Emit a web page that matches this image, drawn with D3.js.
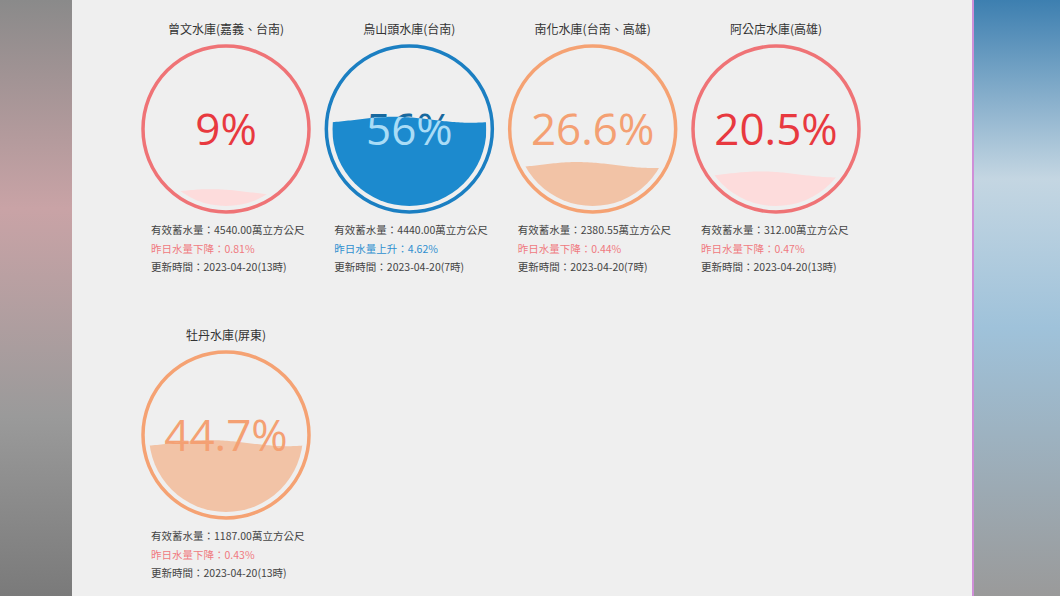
<!DOCTYPE html>
<html><head><meta charset="utf-8">
<script src="https://cdn.jsdelivr.net/npm/d3@7"></script>
<style>
body{margin:0;width:1060px;height:596px;overflow:hidden;background:#888;}
svg{display:block;font-family:"Noto Sans CJK TC","Noto Sans",sans-serif;}
</style></head><body>
<svg id="chart" width="1060" height="596"></svg>
<script>
// reservoir data
const names = ["曾文水庫(嘉義、台南)", "烏山頭水庫(台南)", "南化水庫(台南、高雄)", "阿公店水庫(高雄)", "牡丹水庫(屏東)"];
const percents = [9, 56, 26.6, 20.5, 44.7];
const labels = ["9%", "56%", "26.6%", "20.5%", "44.7%"];
const storage = ["4540.00", "4440.00", "2380.55", "312.00", "1187.00"];
const changeDir = ["下降", "上升", "下降", "下降", "下降"];
const changeVal = ["0.81%", "4.62%", "0.44%", "0.47%", "0.43%"];
const updated = ["2023-04-20(13時)", "2023-04-20(7時)", "2023-04-20(7時)", "2023-04-20(13時)", "2023-04-20(13時)"];
const themes = ["red", "blue", "orange", "red", "orange"];

const palette = {
  red: {ring: "#ef7376", fill: "#fddcdc", text: "#e8393f", wtext: "#e8393f"},
  blue: {ring: "#1b7fc2", fill: "#1c8ace", text: "#17689e", wtext: "#a9dcf6"},
  orange: {ring: "#f5a273", fill: "#f2c3a6", text: "#f4a073", wtext: "#f4a073"}
};

const svg = d3.select("#chart");
const defs = svg.append("defs");

// blurred side backdrops
const lg = defs.append("linearGradient").attr("id", "lside").attr("x1", 0).attr("x2", 0).attr("y1", 0).attr("y2", 1);
lg.append("stop").attr("offset", 0).attr("stop-color", "#8a8a8a");
lg.append("stop").attr("offset", 0.35).attr("stop-color", "#c9a3a6");
lg.append("stop").attr("offset", 0.7).attr("stop-color", "#9a9a9a");
lg.append("stop").attr("offset", 1).attr("stop-color", "#7a7a7a");
const rg = defs.append("linearGradient").attr("id", "rside").attr("x1", 0).attr("x2", 0).attr("y1", 0).attr("y2", 1);
rg.append("stop").attr("offset", 0).attr("stop-color", "#3d7fb0");
rg.append("stop").attr("offset", 0.3).attr("stop-color", "#c4d6e2");
rg.append("stop").attr("offset", 0.55).attr("stop-color", "#9fc2da");
rg.append("stop").attr("offset", 1).attr("stop-color", "#9a9a9a");
svg.append("rect").attr("width", 72).attr("height", 596).attr("fill", "url(#lside)");
svg.append("rect").attr("x", 974).attr("width", 86).attr("height", 596).attr("fill", "url(#rside)");
svg.append("rect").attr("x", 72).attr("width", 902).attr("height", 596).attr("fill", "#efefef");
svg.append("line").attr("x1", 973).attr("x2", 973).attr("y1", 0).attr("y2", 596).attr("stroke", "#c46fd0").attr("stroke-width", 1.5);

const colX = d3.scalePoint().domain([0, 1, 2, 3]).range([226, 776]);
const rowY = d3.scalePoint().domain([0, 1]).range([129, 435]);
const R = 83, r = 77;
const level = d3.scaleLinear().domain([0, 100]).range([r, -r]);

percents.forEach((p, i) => {
  const pal = palette[themes[i]];
  const cx = colX(i % 4), cy = rowY(Math.floor(i / 4));
  const g = svg.append("g").attr("transform", `translate(${cx},${cy})`);

  g.append("text").attr("y", -95).attr("text-anchor", "middle")
    .attr("font-size", 12).attr("fill", "#333").text(names[i]);

  g.append("circle").attr("r", R).attr("fill", "none").attr("stroke", pal.ring).attr("stroke-width", 3.5);

  const clipId = "c" + i;
  defs.append("clipPath").attr("id", clipId).append("circle").attr("cx", cx).attr("cy", cy).attr("r", r);

  // wave surface
  const top = level(p);
  const xs = d3.range(-r, r + 1, 2);
  const area = d3.area()
    .x(d => d)
    .y0(r + 2)
    .y1(d => top + 3 * Math.sin((d + r) / (2 * r) * Math.PI * 2 + 2.2));
  const water = svg.append("g").attr("clip-path", `url(#${clipId})`);
  const wg = water.append("g").attr("transform", `translate(${cx},${cy})`);
  wg.append("path").attr("d", area(xs)).attr("fill", pal.fill);

  const fs = 44;
  g.append("text").attr("y", 16).attr("text-anchor", "middle")
    .attr("font-family", "Open Sans, sans-serif").attr("font-size", fs)
    .attr("fill", pal.text).text(labels[i]);

  // text inside water uses light colour
  const tclip = "t" + i;
  defs.append("clipPath").attr("id", tclip).append("path")
    .attr("transform", `translate(${cx},${cy})`).attr("d", area(xs));
  svg.append("g").attr("clip-path", `url(#${tclip})`)
    .append("text").attr("x", cx).attr("y", cy + 16).attr("text-anchor", "middle")
    .attr("font-family", "Open Sans, sans-serif").attr("font-size", fs)
    .attr("fill", pal.wtext).text(labels[i]);

  const info = g.append("g").attr("transform", `translate(${-R + 8},${R + 22})`).attr("font-size", 10.5);
  info.append("text").attr("fill", "#444").text(`有效蓄水量：${storage[i]}萬立方公尺`);
  info.append("text").attr("y", 18.5).attr("fill", themes[i] == "blue" ? "#2f8fd0" : "#f07a80")
    .text(`昨日水量${changeDir[i]}：${changeVal[i]}`);
  info.append("text").attr("y", 37).attr("fill", "#444").text(`更新時間：${updated[i]}`);
});
</script>
</body></html>
